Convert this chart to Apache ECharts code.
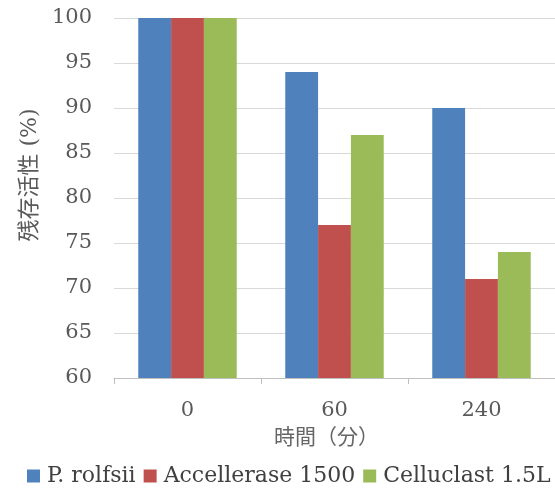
<!DOCTYPE html>
<html><head><meta charset="utf-8">
<script src="https://cdn.jsdelivr.net/npm/echarts@6/dist/echarts.min.js"></script>
<style>html,body{margin:0;padding:0;background:#fff}#c{width:555px;height:491px}</style>
</head><body><div id="c"></div>
<script>
const categories = ['0', '60', '240'];
const seriesNames = ['P. rolfsii', 'Accellerase 1500', 'Celluclast 1.5L'];
const rolfsii = [100, 94, 90];
const accellerase = [100, 77, 71];
const celluclast = [100, 87, 74];
const colors = ['#4f81bd', '#c0504d', '#9bbb59'];
const serif = 'DejaVu Serif';
const cjk = '"Noto Sans CJK JP"';
const mixed = '"DejaVu Serif", "Noto Sans CJK JP"';
const chart = echarts.init(document.getElementById('c'));
const data = [rolfsii, accellerase, celluclast];
chart.setOption({
  animation: false,
  color: colors,
  grid: {left: 114, right: 0, top: 18, bottom: 113, containLabel: false},
  legend: {
    bottom: 4, left: 27, width: 580, padding: 0, icon: 'rect', itemWidth: 13, itemHeight: 13, itemGap: 8,
    textStyle: {fontFamily: serif, fontSize: 22, color: '#404040', padding: [0, 0, 0, 2]},
    data: seriesNames
  },
  xAxis: {
    type: 'category', data: categories,
    name: '時間（分）', nameLocation: 'middle', nameGap: 48,
    nameTextStyle: {fontFamily: cjk, fontSize: 21, color: '#666666', padding: [0, 16, 0, 0]},
    axisLine: {lineStyle: {color: '#bfbfbf', width: 1}},
    axisTick: {show: true, length: 6, lineStyle: {color: '#bfbfbf'}},
    axisLabel: {fontFamily: serif, fontSize: 21, color: '#595959', margin: 22}
  },
  yAxis: {
    type: 'value', min: 60, max: 100, interval: 5,
    name: '残存活性 (%)', nameLocation: 'middle', nameGap: 72,
    nameTextStyle: {fontFamily: mixed, fontSize: 22, color: '#595959', padding: [0, 0, 0, 46]},
    axisLine: {show: false}, axisTick: {show: false},
    splitLine: {lineStyle: {color: '#d9d9d9', width: 1}},
    axisLabel: {fontFamily: serif, fontSize: 21, color: '#595959', margin: 22}
  },
  series: seriesNames.map((n, i) => ({
    name: n, type: 'bar', data: data[i], barGap: '0%', barCategoryGap: '33%'
  }))
});
</script></body></html>
